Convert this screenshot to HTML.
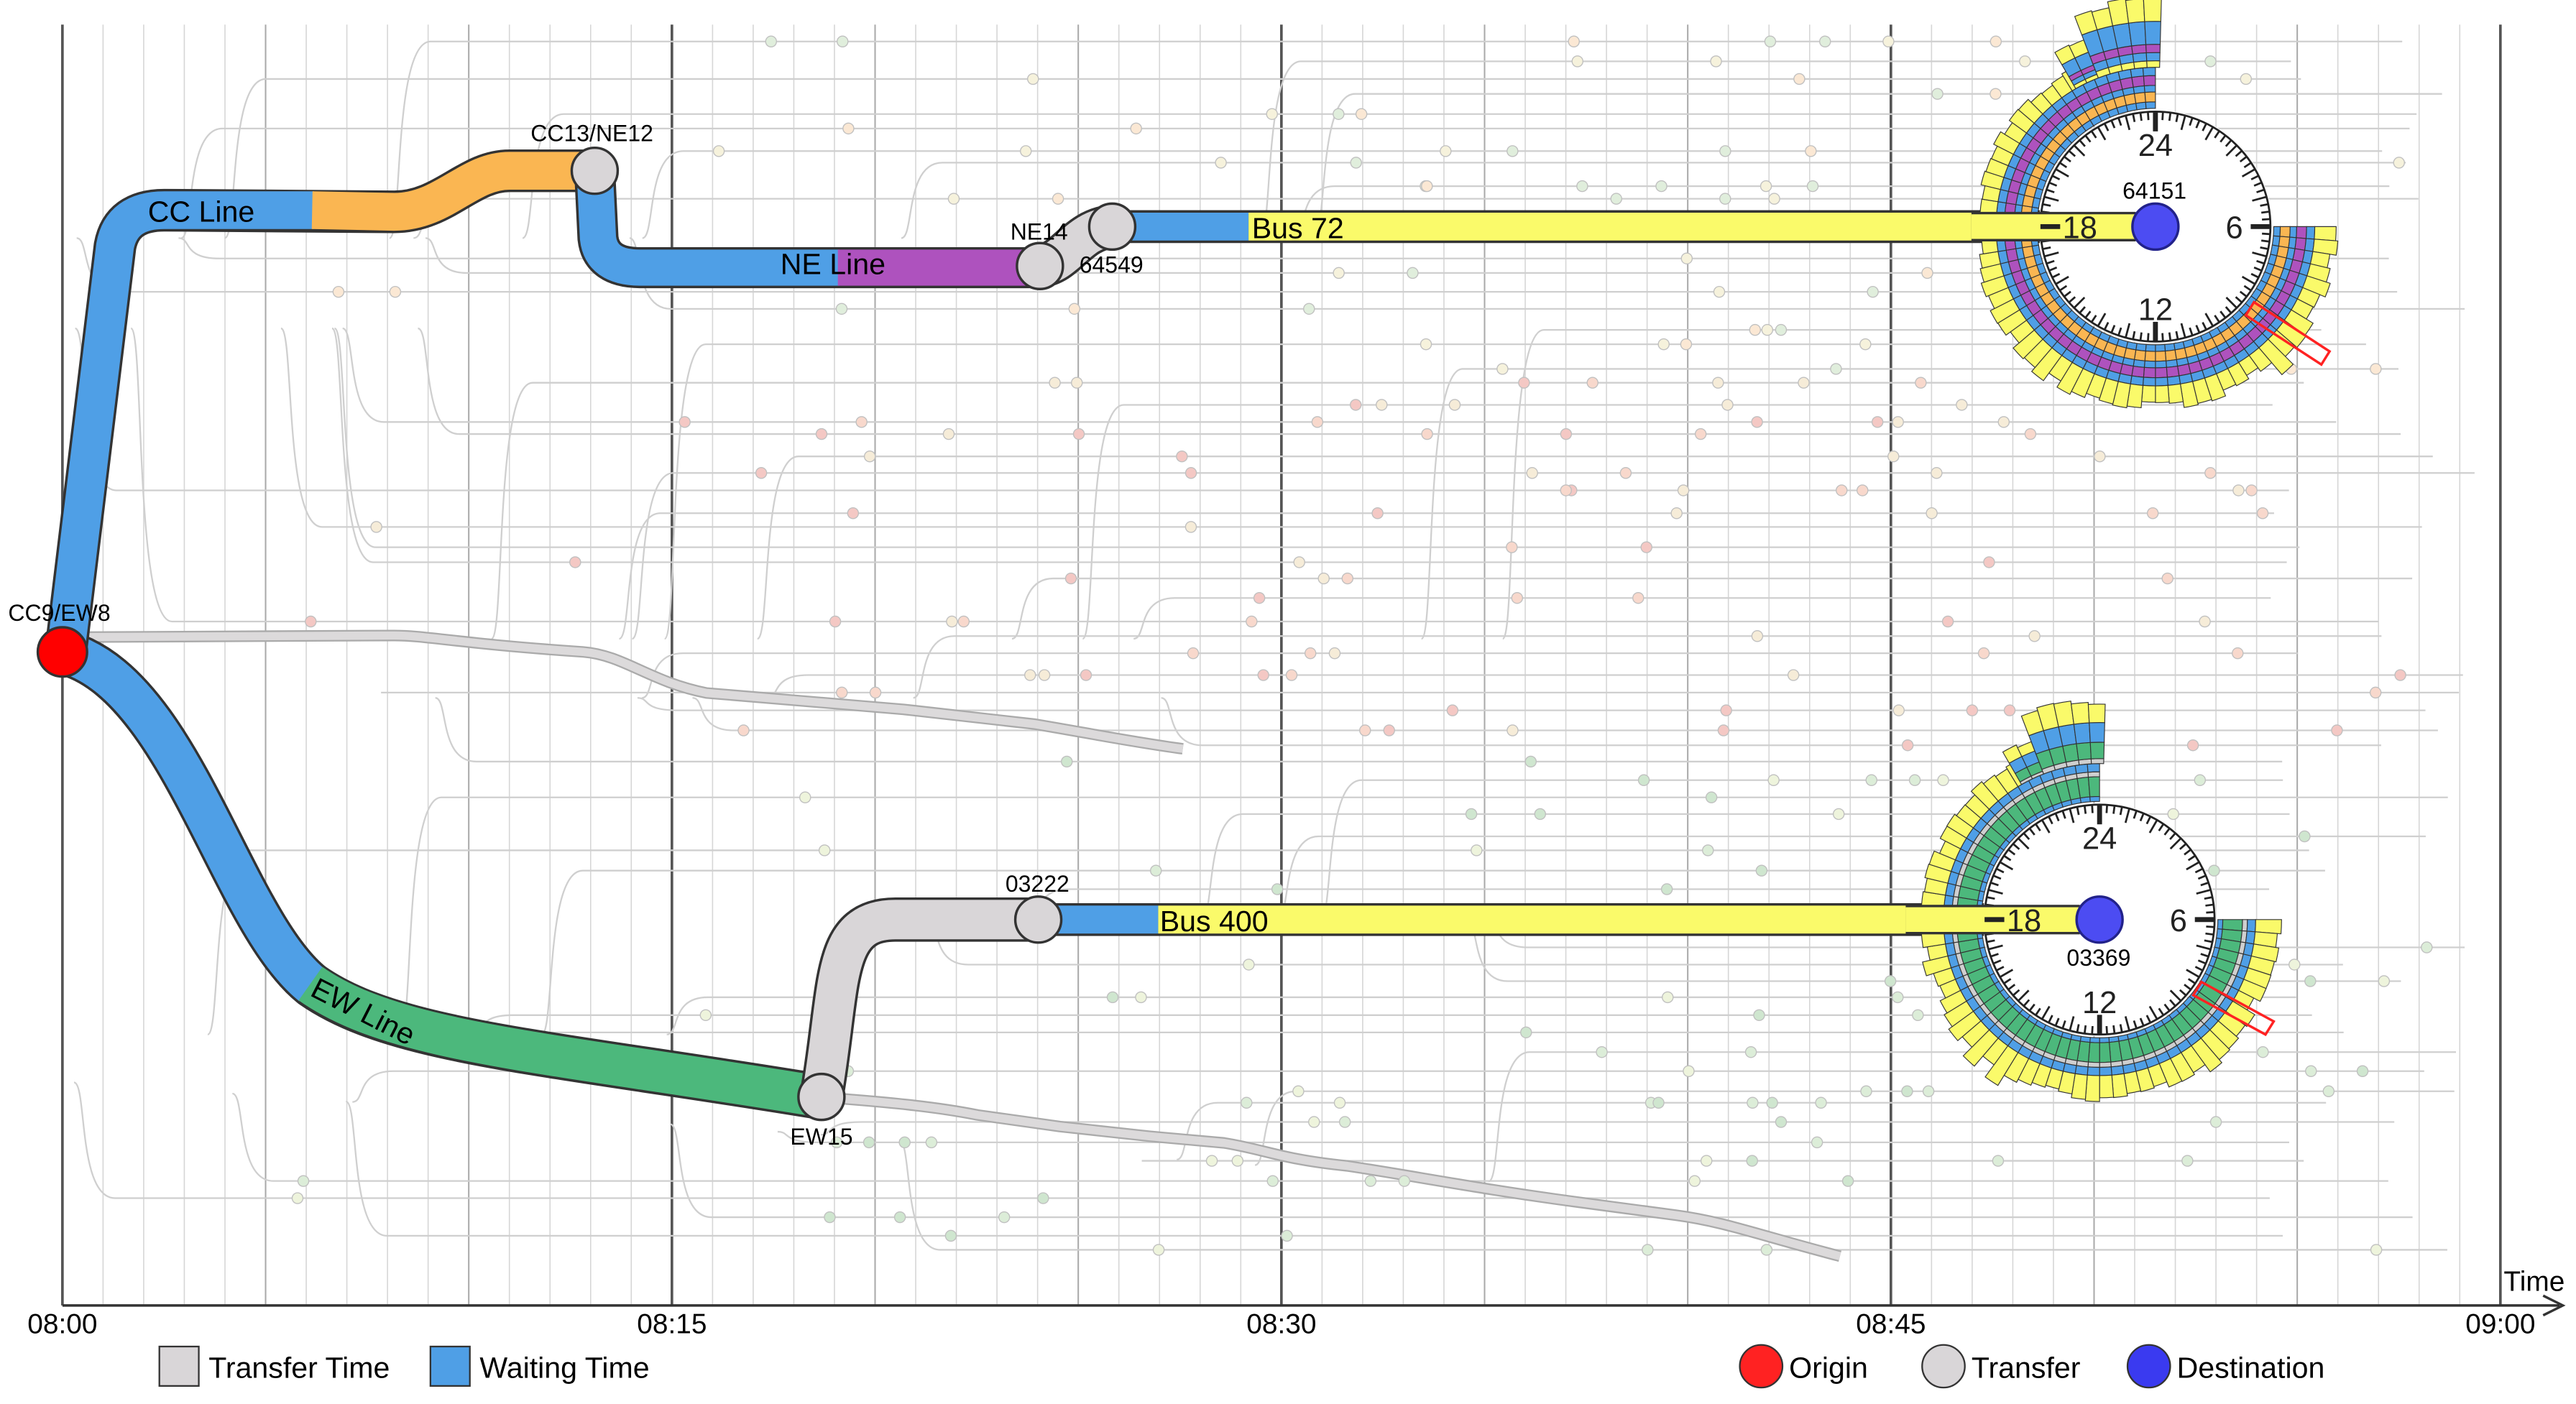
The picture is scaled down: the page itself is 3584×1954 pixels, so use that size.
<!DOCTYPE html>
<html><head><meta charset="utf-8">
<style>
html,body{margin:0;padding:0;background:#fff;}
svg{display:block;}
text{font-family:"Liberation Sans",sans-serif;}
</style></head>
<body>
<svg id="s" width="3584" height="1954" viewBox="0 0 1568 855" preserveAspectRatio="none" xmlns="http://www.w3.org/2000/svg">
<rect width="1568" height="855" fill="#fff"/>
<g id="grid"></g>
<g id="bg"></g>
<!-- gray bundles -->
<path d="M45,388 L240,387 C260,387 280,392 355,397 C380,399 395,415 430,422 L550,432 L630,441 C660,446 690,452 720,456" fill="none" stroke="#aaa" stroke-width="7"/>
<path d="M45,388 L240,387 C260,387 280,392 355,397 C380,399 395,415 430,422 L550,432 L630,441 C660,446 690,452 720,456" fill="none" stroke="#dcdadb" stroke-width="5"/>
<path d="M500,668 C520,670 560,672 595,679 L645,686 L700,692 L745,696 C770,700 780,706 820,710 C860,716 900,724 960,732 L1020,740 C1050,744 1070,752 1120,765" fill="none" stroke="#aaa" stroke-width="7"/>
<path d="M500,668 C520,670 560,672 595,679 L645,686 L700,692 L745,696 C770,700 780,706 820,710 C860,716 900,724 960,732 L1020,740 C1050,744 1070,752 1120,765" fill="none" stroke="#dcdadb" stroke-width="5"/>
<g id="bgdots"></g>

<!-- EW line -->
<path d="M38,397 C110,415 140,560 190,600 C240,635 330,640 500,668" fill="none" stroke="#333" stroke-width="28"/>
<path d="M38,397 C110,415 140,560 190,600" fill="none" stroke="#4f9fe6" stroke-width="25"/>
<path d="M189,599 C240,635 330,640 500,668" fill="none" stroke="#4cb87c" stroke-width="25"/>
<text x="188" y="606" font-size="18" transform="rotate(27 188 606)">EW Line</text>
<path d="M500,668 C512,600 505,560 545,560 L632,560" fill="none" stroke="#333" stroke-width="27"/>
<path d="M500,668 C512,600 505,560 545,560 L632,560" fill="none" stroke="#d9d6d8" stroke-width="24"/>
<path d="M632,560 L1278,560" stroke="#333" stroke-width="20"/>
<path d="M632,560 L705,560" stroke="#4f9fe6" stroke-width="17"/>
<path d="M705,560 L1278,560" stroke="#fafa6a" stroke-width="17"/>
<text x="706" y="567" font-size="18">Bus 400</text>

<!-- CC line -->
<path d="M40,397 L70,150 Q74,128 100,128 L240,129 C270,129 285,104 310,104 L362,104" fill="none" stroke="#333" stroke-width="26"/>
<path d="M40,397 L70,150 Q74,128 100,128 L191,128" fill="none" stroke="#4f9fe6" stroke-width="23"/>
<path d="M190,128 L240,129 C270,129 285,104 310,104 L362,104" fill="none" stroke="#fab652" stroke-width="23"/>
<text x="90" y="135" font-size="18">CC Line</text>
<path d="M362,104 L364,145 Q366,163 390,163 L633,163" fill="none" stroke="#333" stroke-width="25"/>
<path d="M362,104 L364,145 Q366,163 390,163 L511,163" fill="none" stroke="#4f9fe6" stroke-width="22"/>
<path d="M510,163 L633,163" stroke="#ae52be" stroke-width="22"/>
<text x="475" y="167" font-size="18">NE Line</text>
<path d="M633,162 C650,160 655,140 677,138" fill="none" stroke="#333" stroke-width="27"/>
<path d="M633,162 C650,160 655,140 677,138" fill="none" stroke="#d9d6d8" stroke-width="24"/>
<path d="M677,138 L1312,138" stroke="#333" stroke-width="20"/>
<path d="M677,138 L760,138" stroke="#4f9fe6" stroke-width="17"/>
<path d="M760,138 L1312,138" stroke="#fafa6a" stroke-width="17"/>
<text x="762" y="145" font-size="18">Bus 72</text>

<g id="clocks"></g>

<circle cx="38" cy="397" r="15" fill="#f00" stroke="#333" stroke-width="1.5"/>
<circle cx="362" cy="104" r="14" fill="#d9d6d8" stroke="#333" stroke-width="1.5"/>
<circle cx="633" cy="162" r="14" fill="#d9d6d8" stroke="#333" stroke-width="1.5"/>
<circle cx="677" cy="138" r="14" fill="#d9d6d8" stroke="#333" stroke-width="1.5"/>
<circle cx="500" cy="668" r="14" fill="#d9d6d8" stroke="#333" stroke-width="1.5"/>
<circle cx="632" cy="560" r="14" fill="#d9d6d8" stroke="#333" stroke-width="1.5"/>
<g font-size="14">
<text x="5" y="378">CC9/EW8</text>
<text x="323" y="86">CC13/NE12</text>
<text x="615" y="146">NE14</text>
<text x="657" y="166">64549</text>
<text x="481" y="697">EW15</text>
<text x="612" y="543">03222</text>
<text x="1292" y="121">64151</text>
<text x="1258" y="588">03369</text>
</g>

<line x1="38" y1="795" x2="1558" y2="795" stroke="#333" stroke-width="1.5"/>
<path d="M1548,789 L1560,795 L1548,801" fill="none" stroke="#333" stroke-width="1.5"/>
<g font-size="17" text-anchor="middle">
<text x="38" y="812">08:00</text><text x="409" y="812">08:15</text><text x="780" y="812">08:30</text><text x="1151" y="812">08:45</text><text x="1522" y="812">09:00</text>
</g>
<text x="1524" y="786" font-size="17">Time</text>
<rect x="97" y="820" width="24" height="24" fill="#d9d6d8" stroke="#333"/>
<text x="127" y="839" font-size="18">Transfer Time</text>
<rect x="262" y="820" width="24" height="24" fill="#4f9fe6" stroke="#333"/>
<text x="292" y="839" font-size="18">Waiting Time</text>
<circle cx="1072" cy="832" r="13" fill="#f22" stroke="#333"/>
<text x="1089" y="839" font-size="18">Origin</text>
<circle cx="1183" cy="832" r="13" fill="#d9d6d8" stroke="#333"/>
<text x="1200" y="839" font-size="18">Transfer</text>
<circle cx="1308" cy="832" r="13" fill="#3a3af0" stroke="#333"/>
<text x="1325" y="839" font-size="18">Destination</text>
</svg>
<script>
(function(){
var NS="http://www.w3.org/2000/svg";
function el(p,t,a){var e=document.createElementNS(NS,t);for(var k in a)e.setAttribute(k,a[k]);p.appendChild(e);return e;}
var seed=12345;function rnd(){seed=(seed*1103515245+12345)%2147483648;return seed/2147483648;}
var grid=document.getElementById('grid');
for(var m=0;m<=60;m++){var x=38+m*24.733;var maj=m%15==0;
 el(grid,'line',{x1:x,y1:15,x2:x,y2:795,stroke:maj?'#555':(m%5==0?'#aaa':'#d6d6d6'),'stroke-width':maj?1.6:(m%5==0?0.9:0.7)});}
var bg=document.getElementById('bg'),dots=document.getElementById('bgdots');
for(var i=0;i<68;i++){
 var y=22+i*11+rnd()*5;
 if(Math.abs(y-138)<10||Math.abs(y-560)<10)continue;
 var xs=60+Math.pow(rnd(),1.3)*900;var xe=1380+rnd()*130;
 var col=y<230?['#fbe8d4','#f6f2dc','#e0eedc']:(y<460?['#f4c8c4','#f8d8cc','#f6ecd8']:['#dcedd8','#eef4dc','#cfe6cf']);
 var sy;
 if(y<200)sy=145; else if(y<380) sy=(xs<300?200:389); else if(y<470) sy=425; else if(y<640) sy=(xs<500?630:560); else sy=690+(xs-500)*0.07;
 if(sy>y-5&&sy<y+5)sy=y;
 var sx=xs-15;
 el(bg,'path',{d:'M'+sx+','+sy+' C'+(sx+8)+','+sy+' '+(sx+2)+','+y+' '+(sx+25)+','+y+' L'+xe+','+y,fill:'none',stroke:'#cfcfcf','stroke-width':1});
 var n=2+Math.floor(rnd()*6);
 for(var j=0;j<n;j++){var cx=sx+25+rnd()*(xe-sx-25);
  el(dots,'circle',{cx:cx,cy:y,r:3.3,fill:col[Math.floor(rnd()*3)],stroke:'#c0c0c0','stroke-width':0.6});}
}
var cg=document.getElementById('clocks');
function sector(g,cx,cy,r1,r2,a1,a2,fill){
 function pt(r,a){var t=a*Math.PI/180;return (cx+r*Math.sin(t)).toFixed(2)+','+(cy-r*Math.cos(t)).toFixed(2);}
 el(g,'path',{d:'M'+pt(r1,a1)+' L'+pt(r2,a1)+' A'+r2+','+r2+' 0 0 1 '+pt(r2,a2)+' L'+pt(r1,a2)+' A'+r1+','+r1+' 0 0 0 '+pt(r1,a1)+'Z',fill:fill,stroke:'#333','stroke-width':0.5});
}
function clock(cx,cy,layers,spike){
 var g=el(cg,'g',{});
 el(g,'circle',{cx:cx,cy:cy,r:71,fill:'#fff'});
 var step=4.5;
 for(var a=90;a<360;a+=step){
  var r=72;
  for(var L=0;L<layers.length;L++){var w=layers[L][1];
   if(L==layers.length-1){w=w+rnd()*6;if(a>200&&a<240)w+=rnd()*8;if(a>120&&a<140)w+=rnd()*10;}
   sector(g,cx,cy,r,r+w,a,a+step,layers[L][0]);r+=w;}
 }
 var r0=72;for(var L=0;L<layers.length;L++)r0+=layers[L][1];
 for(var a=330;a<360;a+=step){
  var r=r0-layers[layers.length-1][1];
  for(var k=0;k<spike.length;k++){var w=spike[k][1]+(spike[k][2]?rnd()*5:0);if(a<338)w*=0.6;sector(g,cx,cy,r,r+w,a,a+step,spike[k][0]);r+=w;}
 }
 el(g,'circle',{cx:cx,cy:cy,r:70,fill:'none',stroke:'#222','stroke-width':1.2});
 for(var t=0;t<96;t++){var a=t*3.75*Math.PI/180;var len=(t%24==0)?12:(t%4==0?9:5);var sw=(t%24==0)?3:1.2;
  el(g,'line',{x1:cx+70*Math.sin(a),y1:cy-70*Math.cos(a),x2:cx+(70-len)*Math.sin(a),y2:cy-(70-len)*Math.cos(a),stroke:'#222','stroke-width':sw});}
 var lb=[['24',0,-43],['6',48,7],['12',0,57]];
 lb.forEach(function(l){var e=el(g,'text',{x:cx+l[1],y:cy+l[2],'font-size':19,'text-anchor':'middle',fill:'#222'});e.textContent=l[0];});
}
clock(1312,138,[['#4f9fe6',4],['#fab652',6],['#4f9fe6',4],['#ae52be',6],['#4f9fe6',5],['#fafa6a',9]],[['#fafa6a',4],['#4f9fe6',5],['#ae52be',5],['#4f9fe6',14],['#fafa6a',10,1]]);
el(cg,'path',{d:'M1200,138 L1300,138',stroke:'#333','stroke-width':18});
el(cg,'path',{d:'M1200,138 L1300,138',stroke:'#fafa6a','stroke-width':15});
el(cg,'circle',{cx:1312,cy:138,r:14,fill:'#4c4cf2',stroke:'#22228a','stroke-width':1.5});
clock(1278,560,[['#4f9fe6',3],['#4cb87c',12],['#cfcfcf',3],['#4f9fe6',5],['#fafa6a',10]],[['#cfcfcf',3],['#4cb87c',10],['#4f9fe6',12],['#fafa6a',10,1]]);
el(cg,'path',{d:'M1160,560 L1266,560',stroke:'#333','stroke-width':18});
el(cg,'path',{d:'M1160,560 L1266,560',stroke:'#fafa6a','stroke-width':15});
el(cg,'circle',{cx:1278,cy:560,r:14,fill:'#4c4cf2',stroke:'#22228a','stroke-width':1.5});
el(cg,'path',{d:'M1372,184 L1418,214 L1413,222 L1367,192Z',fill:'none',stroke:'#f22','stroke-width':1.5});
el(cg,'path',{d:'M1340,598 L1384,622 L1379,630 L1335,606Z',fill:'none',stroke:'#f22','stroke-width':1.5});
[[1312,138],[1278,560]].forEach(function(c){var e=el(cg,'text',{x:c[0]-46,y:c[1]+7,'font-size':19,'text-anchor':'middle',fill:'#222'});e.textContent='18';
 el(cg,'line',{x1:c[0]-70,y1:c[1],x2:c[0]-58,y2:c[1],stroke:'#222','stroke-width':3});});
})();
</script>
</body></html>
